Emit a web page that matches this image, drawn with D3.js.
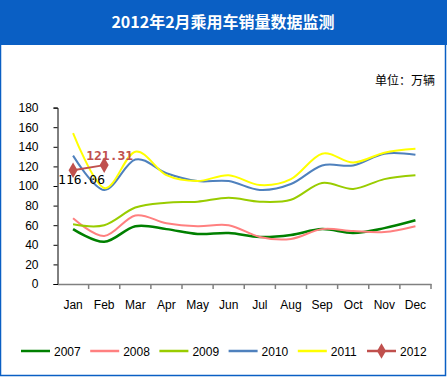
<!DOCTYPE html>
<html lang="zh">
<head>
<meta charset="utf-8">
<title>2012年2月乘用车销量数据监测</title>
<script src="https://cdn.jsdelivr.net/npm/d3@7"></script>
<style>
  body { margin: 0; background: #fff; }
  svg { display: block; font-family: "Liberation Sans", Arial, sans-serif; }
</style>
</head>
<body>
<svg id="chart" width="447" height="377"></svg>
<script>
var months = ["Jan","Feb","Mar","Apr","May","Jun","Jul","Aug","Sep","Oct","Nov","Dec"];
var yTicks = [0,20,40,60,80,100,120,140,160,180];

var s2007 = [56, 43, 59, 56, 51, 52, 48, 50, 56, 52, 57, 65];
var s2008 = [67, 49, 70, 62, 59, 60, 48, 46, 56, 54, 53, 59];
var s2009 = [61, 60, 78, 83, 84, 88, 84, 86, 103, 97, 107, 111];
var s2010 = [131, 96, 127, 113, 105, 105, 96, 102, 121, 121, 133, 132];
var s2011 = [154, 98, 135, 111, 105, 111, 101, 107, 133, 124, 134, 138];
var s2012 = [116.06, 121.31];

var series = [
  {name: "2007", values: s2007, color: "#008000", w: 2.5},
  {name: "2008", values: s2008, color: "#ff8080", w: 2},
  {name: "2009", values: s2009, color: "#99cc00", w: 2},
  {name: "2010", values: s2010, color: "#4f81bd", w: 2},
  {name: "2011", values: s2011, color: "#ffff00", w: 2},
  {name: "2012", values: s2012, color: "#c0504d", w: 2, marker: true}
];

var svg = d3.select("#chart");

// frame + banner
svg.append("rect").attr("x", 0.5).attr("y", 0.5).attr("width", 445).attr("height", 375)
  .attr("fill", "#fff").attr("stroke", "#0a5fc4").attr("stroke-width", 1.5);
svg.append("rect").attr("x", 0).attr("y", 0).attr("width", 447).attr("height", 45).attr("fill", "#0a5fc4");
svg.append("text").attr("x", 223).attr("y", 28).attr("text-anchor", "middle")
  .attr("fill", "#fff").attr("font-size", 16).attr("font-weight", "bold")
  .attr("font-family", "'Noto Sans CJK SC', sans-serif")
  .text("2012年2月乘用车销量数据监测");
svg.append("text").attr("x", 435).attr("y", 85).attr("text-anchor", "end")
  .attr("font-size", 12).attr("font-family", "'Noto Sans CJK SC', sans-serif")
  .text("单位：万辆");

var x = d3.scaleBand().domain(months).range([57.5, 431]);
var y = d3.scaleLinear().domain([0, 180]).range([284, 107.6]);

// axes
var gy = svg.append("g").attr("transform", "translate(57.5,0)")
  .call(d3.axisLeft(y).tickValues(yTicks).tickSize(4).tickPadding(15));
gy.select(".domain").attr("stroke", "#000");
gy.selectAll("line").attr("stroke", "#000");
gy.selectAll("text").attr("font-size", 12).attr("fill", "#000")
  .attr("font-family", "'Liberation Sans', Arial, sans-serif");

var gx = svg.append("g").attr("transform", "translate(0,284)")
  .call(d3.axisBottom(x).tickSize(0).tickPadding(16));
gx.select(".domain").attr("stroke", "#808080").attr("stroke-width", 1.5);
gx.selectAll("text").attr("font-size", 12).attr("fill", "#000")
  .attr("font-family", "'Liberation Sans', Arial, sans-serif");
gx.selectAll(".sep").data(months.slice(1)).enter().append("line")
  .attr("x1", function(d) { return x(d); }).attr("x2", function(d) { return x(d); })
  .attr("y1", 0).attr("y2", 5).attr("stroke", "#808080").attr("stroke-width", 1.5);
gx.append("line").attr("x1", 431).attr("x2", 431).attr("y1", 0).attr("y2", 5)
  .attr("stroke", "#808080").attr("stroke-width", 1.5);

var cx = function(d, i) { return x(months[i]) + x.bandwidth() / 2; };
var line = d3.line().x(cx).y(function(d) { return y(d); }).curve(d3.curveCardinal.tension(0));
var straight = d3.line().x(cx).y(function(d) { return y(d); });

series.forEach(function(s) {
  svg.append("path").datum(s.values)
    .attr("fill", "none").attr("stroke", s.color).attr("stroke-width", s.w)
    .attr("d", s.marker ? straight : line);
});

// 2012 markers and labels
var sym = d3.symbol().type(d3.symbolDiamond).size(70);
svg.selectAll(".mk").data(s2012).enter().append("path")
  .attr("d", sym).attr("fill", "#c0504d")
  .attr("transform", function(d, i) { return "translate(" + cx(d, i) + "," + y(d) + ")"; });

svg.append("text").attr("x", cx(s2012[0], 0) - 15).attr("y", y(s2012[0]) + 14)
  .attr("font-size", 13).attr("font-family", "'DejaVu Sans Mono', monospace")
  .attr("fill", "#000").text(d3.format(".2f")(s2012[0]));
svg.append("text").attr("x", cx(s2012[1], 1) - 18).attr("y", y(s2012[1]) - 5)
  .attr("font-size", 13).attr("font-weight", "bold").attr("font-family", "'DejaVu Sans Mono', monospace")
  .attr("fill", "#c0504d").text(d3.format(".2f")(s2012[1]));

// legend
var lg = svg.selectAll(".lg").data(series).enter().append("g")
  .attr("transform", function(d, i) { return "translate(" + (21 + i * 69.2) + ",351)"; });
lg.append("line").attr("x1", 0).attr("x2", 29).attr("y1", 0).attr("y2", 0)
  .attr("stroke", function(d) { return d.color; }).attr("stroke-width", 2.5);
lg.filter(function(d) { return d.marker; }).append("path")
  .attr("d", sym).attr("fill", "#c0504d").attr("transform", "translate(14.5,0)");
lg.append("text").attr("x", 33).attr("y", 5).attr("font-size", 12).attr("fill", "#000")
  .text(function(d) { return d.name; });
</script>
</body>
</html>
